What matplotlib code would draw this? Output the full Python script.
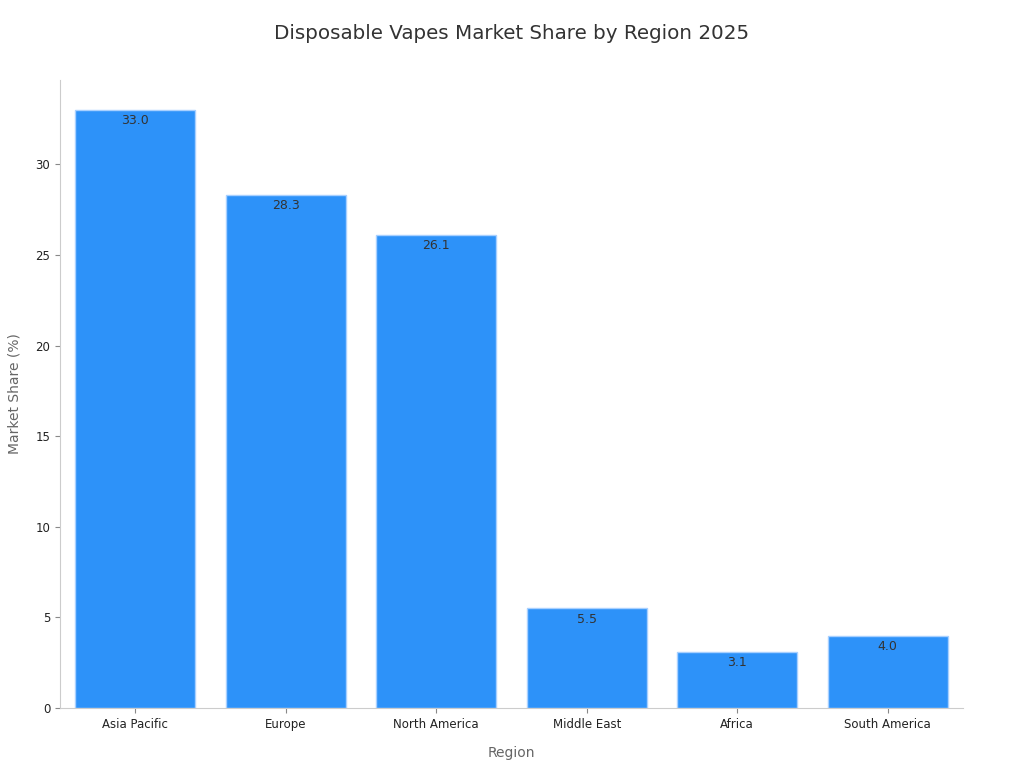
import matplotlib
matplotlib.use('Agg')
import matplotlib.pyplot as plt
import numpy as np

# ── DATA ──────────────────────────────────────────────────────────────────────
REGIONS = ['Asia Pacific', 'Europe', 'North America', 'Middle East', 'Africa', 'South America']
SHARES = [33.0, 28.3, 26.1, 5.5, 3.1, 4.0]

# ── CHART ─────────────────────────────────────────────────────────────────────
fig = plt.figure(figsize=(10.24, 7.68), dpi=100)
ax = fig.add_axes([0.0586, 0.078, 0.8818, 0.8178])

x = np.arange(len(REGIONS))
bars = ax.bar(x, SHARES, width=0.8, color='#2D92F9', edgecolor='#A8D0FF', linewidth=1.0)

for bar, val in zip(bars, SHARES):
    ax.annotate(f'{val:.1f}', (bar.get_x() + bar.get_width() / 2, bar.get_height()),
                xytext=(0, -3), textcoords='offset points',
                ha='center', va='top', fontsize=9, color='#333333')

ax.set_xticks(x)
ax.set_xticklabels(REGIONS)
ax.tick_params(color='#888888', labelsize=8.5, labelcolor='#222222')
ax.set_xlim(-0.5, len(REGIONS) - 0.5)
ax.set_ylim(0, max(SHARES) * 1.05)

ax.set_xlabel('Region', fontsize=10, color='#666666', labelpad=11)
ax.set_ylabel('Market Share (%)', fontsize=10, color='#666666', labelpad=10)
fig.suptitle('Disposable Vapes Market Share by Region 2025', fontsize=14.3, color='#333333',
             y=0.957, va='center')

ax.spines['top'].set_visible(False)
ax.spines['right'].set_visible(False)
ax.spines['left'].set_color('#cccccc')
ax.spines['bottom'].set_color('#cccccc')

fig.savefig('out.png', dpi=100)
plt.close(fig)
